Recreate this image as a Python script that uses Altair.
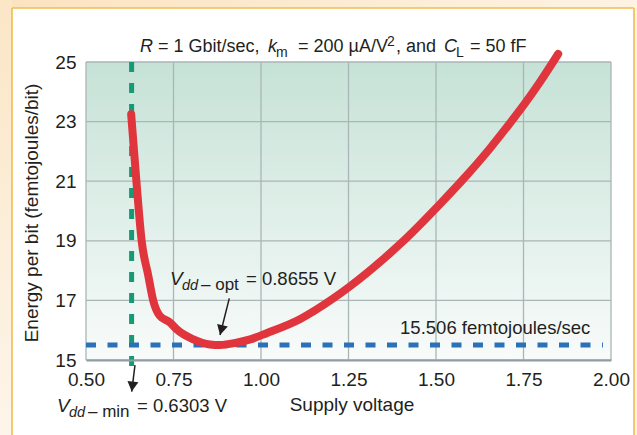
import altair as alt
import pandas as pd

FONT = "Liberation Sans"
INK = "#231f20"
RED = "#e0353d"
GREEN = "#149b76"
BLUE = "#2a71b8"
GRID = "#a9b6b5"

# ---- data ----
volts = [0.629, 0.644, 0.659, 0.678, 0.692, 0.711, 0.74, 0.759, 0.807, 0.854,
         0.883, 0.93, 0.969, 1.016, 1.111, 1.207, 1.254, 1.349, 1.40, 1.511,
         1.588, 1.654, 1.716, 1.754, 1.797, 1.849]
energy = [23.25, 21.0, 19.0, 17.83, 17.0, 16.48, 16.26, 16.03, 15.69, 15.52,
          15.50, 15.58, 15.69, 15.9, 16.37, 17.07, 17.47, 18.38, 18.92, 20.23,
          21.2, 22.1, 23.02, 23.61, 24.33, 25.27]
x_ticks = [0.5, 0.75, 1.0, 1.25, 1.5, 1.75, 2.0]
y_ticks = [15, 17, 19, 21, 23, 25]
vdd_min = 0.6303
vdd_opt = 0.8655
e_min = 15.506

W, H = 525, 298

xs = alt.Scale(domain=[0.5, 2.0], nice=False, zero=False)
ys = alt.Scale(domain=[15, 25], nice=False, zero=False)
xaxis = alt.Axis(values=x_ticks, format=".2f", grid=False, ticks=False, domain=True,
                 domainColor="#8d9ea2", domainWidth=2, labelFontSize=19, labelFont=FONT,
                 labelColor=INK, labelPadding=10, labelFlush=False, labelOverlap=False,
                 title=None, zindex=1)
yaxis = alt.Axis(values=y_ticks, format="d", grid=False, ticks=False, domain=False,
                 labelFontSize=19, labelFont=FONT, labelColor=INK, labelPadding=10,
                 labelOverlap=False, title=None, zindex=1)


def X(f="v"):
    return alt.X(f"{f}:Q", scale=xs, axis=xaxis)


def Y(f="e"):
    return alt.Y(f"{f}:Q", scale=ys, axis=yaxis)


layers = []

# plot-area gradient background
viewgrad = alt.LinearGradient(gradient="linear", x1=0, x2=0, y1=0, y2=1,
                              stops=[alt.GradientStop(color="#c6e2d7", offset=0),
                                     alt.GradientStop(color="#f8fbfa", offset=1)])
layers.append(alt.Chart(pd.DataFrame({"a": [0]})).mark_rect(fill=viewgrad).encode(
    x=alt.value(0), x2=alt.value(W), y=alt.value(0), y2=alt.value(H)))

# grid
layers.append(alt.Chart(pd.DataFrame({"v": x_ticks})).mark_rule(color=GRID, strokeWidth=1.3)
              .encode(x=X()))
layers.append(alt.Chart(pd.DataFrame({"e": y_ticks})).mark_rule(color=GRID, strokeWidth=1.3)
              .encode(y=Y()))

# green dashed vertical at Vdd-min
layers.append(alt.Chart(pd.DataFrame({"v": [vdd_min], "e": [25.0], "e2": [14.5]}))
              .mark_rule(color=GREEN, strokeWidth=5, strokeDash=[10, 11], clip=False)
              .encode(x=X(), y=Y(), y2=alt.Y2("e2:Q")))

# blue dashed horizontal at minimum energy
layers.append(alt.Chart(pd.DataFrame({"v": [0.5], "v2": [1.977], "e": [e_min]}))
              .mark_rule(color=BLUE, strokeWidth=5, strokeDash=[10, 11.5], clip=False)
              .encode(x=X(), x2=alt.X2("v2:Q"), y=Y()))

# red curve (drawn over the dashed guides)
curve = pd.DataFrame({"v": volts, "e": energy})
layers.append(alt.Chart(curve).mark_line(color=RED, strokeWidth=8, strokeCap="round",
                                         strokeJoin="round", interpolate="monotone",
                                         clip=False).encode(x=X(), y=Y()))

ARROW = "M0,0 L-0.55,-1 L0.55,-1 Z"


def arrow(v0, e0, v1, e1, ang):
    seg = pd.DataFrame({"v": [v0], "e": [e0], "v2": [v1], "e2": [e1]})
    line = alt.Chart(seg).mark_rule(color=INK, strokeWidth=1.5, clip=False).encode(
        x=X(), y=Y(), x2=alt.X2("v2:Q"), y2=alt.Y2("e2:Q"))
    head = alt.Chart(pd.DataFrame({"v": [v1], "e": [e1]})).mark_point(
        shape=ARROW, size=400, filled=True, color=INK, opacity=1, angle=ang,
        clip=False).encode(x=X(), y=Y())
    return [line, head]


layers += arrow(0.9094, 17.07, 0.883, 15.84, 14)
layers += arrow(0.640, 14.83, 0.6306, 13.94, 7)


def piece(s, v, e, dx=0, dy=0, size=18.5, italic=False, align="left"):
    d = pd.DataFrame({"v": [v], "e": [e], "t": [s]})
    return alt.Chart(d).mark_text(font=FONT, fontSize=size, color=INK, align=align,
                                  baseline="alphabetic", dx=dx, dy=dy, clip=False,
                                  fontStyle="italic" if italic else "normal").encode(
        x=X(), y=Y(), text="t:N")


# V_dd-opt label
ov, oe = 0.74, 17.52
layers += [piece("V", ov, oe, 0, 0, 19, True),
           piece("dd", ov, oe, 12, 5, 14.5, True),
           piece("\u2013 opt", ov, oe, 31, 5, 17),
           piece(f"= {vdd_opt} V", ov, oe, 76, 0, 18.5)]

# V_dd-min label
mv, me = 0.4171, 13.265
layers += [piece("V", mv, me, 0, 0, 19, True),
           piece("dd", mv, me, 12, 5, 14.5, True),
           piece("\u2013 min", mv, me, 31, 5, 17),
           piece(f"= {vdd_min} V", mv, me, 80, 0, 18.5)]

# minimum energy label
layers.append(piece(f"{e_min} femtojoules/sec", 1.941, 15.87, 0, 0, 18.5, align="right"))


def ptext(s, x, y, size=18, italic=False, align="left", angle=0):
    d = pd.DataFrame({"t": [s]})
    kw = dict(font=FONT, fontSize=size, color=INK, align=align, baseline="alphabetic",
              fontStyle="italic" if italic else "normal")
    if angle:
        kw["angle"] = angle
    return alt.Chart(d).mark_text(**kw).encode(x=alt.value(x), y=alt.value(y), text="t:N")


# title pieces
layers += [ptext("R", 54, -10, 18, True),
           ptext("= 1 Gbit/sec,", 72, -10, 18),
           ptext("k", 182, -10, 18, True),
           ptext("m", 190, -5, 14),
           ptext("= 200 \u00b5A/V", 212, -10, 18),
           ptext("2", 301, -16, 14),
           ptext(", and", 310, -10, 18),
           ptext("C", 358, -10, 18, True),
           ptext("L", 370, -5, 14),
           ptext("= 50 fF", 384, -10, 18)]

# axis titles
layers.append(ptext("Energy per bit (femtojoules/bit)", -48, 151, 19, align="center", angle=270))
layers.append(ptext("Supply voltage", 266, 349, 19, align="center"))


# outer cream frame and orange border of the panel
def prect(x, x2, y, y2, fill):
    return alt.Chart(pd.DataFrame({"a": [0]})).mark_rect(fill=fill).encode(
        x=alt.value(x), x2=alt.value(x2), y=alt.value(y), y2=alt.value(y2))


topgrad = alt.LinearGradient(gradient="linear", x1=0, x2=1, y1=0, y2=0,
                             stops=[alt.GradientStop(color="#fbe3bf", offset=0),
                                    alt.GradientStop(color="#fdf3e3", offset=1)])
leftgrad = alt.LinearGradient(gradient="linear", x1=0, x2=0, y1=0, y2=1,
                              stops=[alt.GradientStop(color="#fbe6c6", offset=0),
                                     alt.GradientStop(color="#fdf5ea", offset=1)])
layers += [prect(-86, 551, -62, -54, topgrad),
           prect(-86, -74, -62, 373, leftgrad),
           prect(548, 551, -62, 373, "#fdf3e3")]


def prule(x, x2, y, y2):
    return alt.Chart(pd.DataFrame({"a": [0]})).mark_rule(color="#f2bc52", strokeWidth=1.6).encode(
        x=alt.value(x), x2=alt.value(x2), y=alt.value(y), y2=alt.value(y2))


layers += [prule(-74, 548, -54, -54), prule(-74, -74, -54, 373), prule(548, 548, -54, 373)]

chart = alt.layer(*layers).properties(
    width=W, height=H, autosize="none",
    padding={"left": 86, "top": 62, "right": 26, "bottom": 75},
    background="white",
).configure_view(stroke=None)

chart.save("out.html", embed_options={"renderer": "svg", "actions": False})
